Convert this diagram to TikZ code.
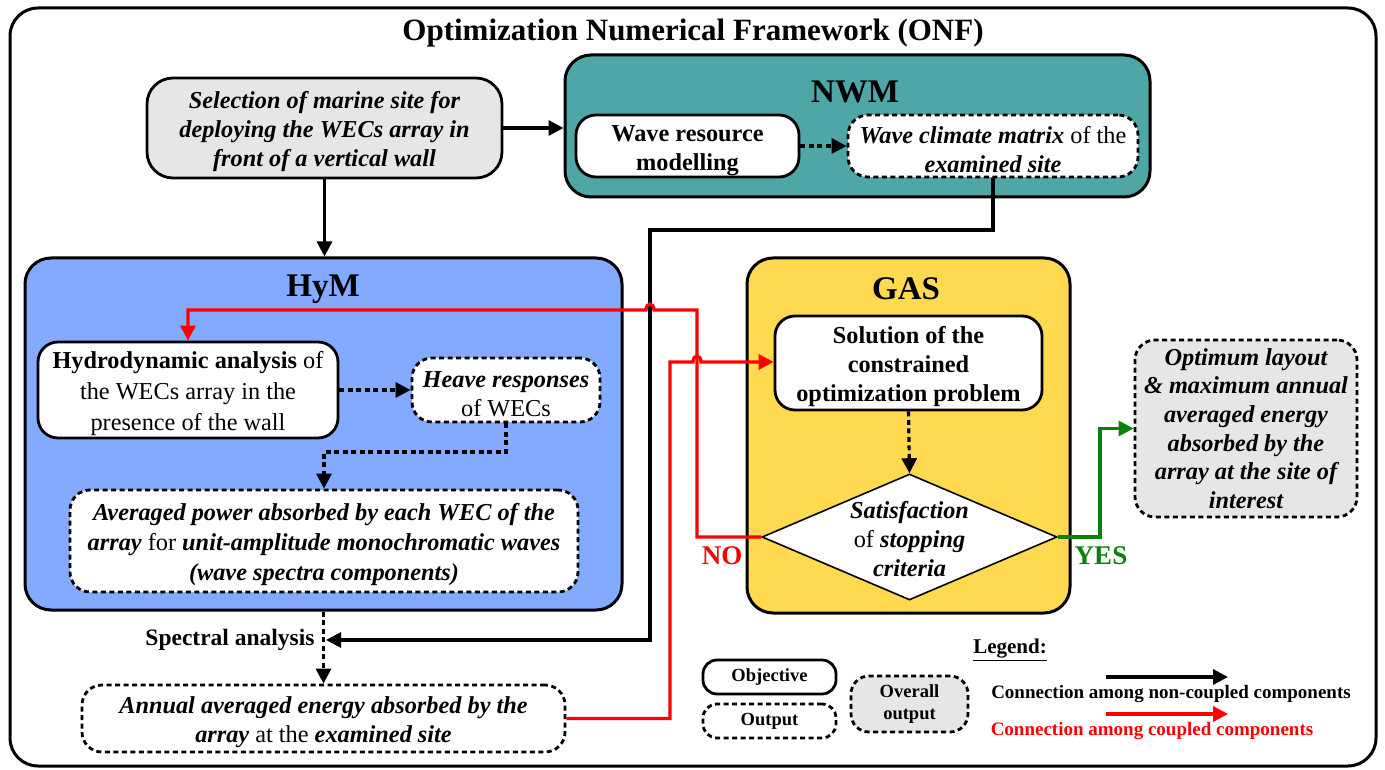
\documentclass[tikz,border=0pt]{standalone}
\usepackage{fontspec}
\setmainfont{Liberation Serif}
\usetikzlibrary{arrows.meta,shapes.geometric,calc}
\definecolor{teal1}{HTML}{4FA6A6}
\definecolor{blue1}{HTML}{84AAFF}
\definecolor{yel1}{HTML}{FFD94F}
\definecolor{gray1}{HTML}{E6E6E6}
\definecolor{grn1}{HTML}{0A820A}
\newcommand{\bix}[1]{{\bfseries\itshape #1}}
\newcommand{\tup}{\rule{0pt}{25pt}}
\begin{document}
\begin{tikzpicture}[x=1pt,y=-1pt,
  boxfont/.style={font=\fontsize{24.3}{29}\selectfont},
  objbox/.style={draw,line width=2.8pt,rounded corners=20pt,fill=white,align=center,inner sep=1pt,boxfont},
  outbox/.style={objbox,dash pattern=on 5pt off 3.5pt},
  contbox/.style={draw,line width=3pt,rounded corners=26pt,inner sep=0pt},
  conttitle/.style={font=\fontsize{33}{36}\selectfont\bfseries},
  legfont/.style={font=\fontsize{18.5}{21}\selectfont\bfseries},
  arr/.style={line width=3.2pt,-{Triangle[length=15pt,width=15pt]}},
  darr/.style={arr,dash pattern=on 5pt off 3.5pt},
  rarr/.style={arr,red},
  garr/.style={arr,grn1},
]
\useasboundingbox (0,0) rectangle (1385,770);
\node[contbox,minimum width=1366,minimum height=758,rounded corners=28pt] (frame) at (693,387) {};
\node[font=\fontsize{31}{34}\selectfont\bfseries] (title) at (693,33) {Optimization Numerical Framework (ONF)};

% containers
\node[contbox,fill=teal1,minimum width=585,minimum height=142] (nwm) at (857.5,126) {};
\node[conttitle] (nwmt) at (855,92) {NWM};
\node[contbox,fill=blue1,minimum width=597,minimum height=352] (hym) at (323.5,434) {};
\node[conttitle] (hymt) at (323,289) {HyM};
\node[contbox,fill=yel1,minimum width=323,minimum height=355] (gas) at (908.5,435.5) {};
\node[conttitle] (gast) at (906,289) {GAS};

% boxes
\node[objbox,fill=gray1,minimum width=355,minimum height=100,rounded corners=26pt] (sel) at (324.5,128)
  {\tup\bix{Selection of marine site for}\\ \bix{deploying the WECs array in}\\ \bix{front of a vertical wall}};
\node[objbox,minimum width=223,minimum height=62] (wrm) at (687.5,146)
  {\tup\bfseries Wave resource\\ \bfseries modelling};
\node[outbox,minimum width=290,minimum height=62] (wcm) at (993,146)
  {\tup\bix{Wave climate matrix} of the\\ \bix{examined site}};
\node[objbox,minimum width=300,minimum height=96,font=\fontsize{24.3}{31}\selectfont] (hyd) at (188,390)
  {\tup\textbf{Hydrodynamic analysis} of\\ the WECs array in the\\ presence of the wall};
\node[outbox,minimum width=188,minimum height=64] (heave) at (506,390)
  {\tup\bix{Heave responses}\\ of WECs};
\node[outbox,minimum width=508,minimum height=102,font=\fontsize{24.3}{30}\selectfont] (avg) at (324,541)
  {\tup\bix{Averaged power absorbed by each WEC of the}\\ \bix{array} for \bix{unit-amplitude monochromatic waves}\\ \bix{(wave spectra components)}};
\node[outbox,minimum width=483,minimum height=67] (ann) at (323.5,718.5)
  {\tup\bix{Annual averaged energy absorbed by the}\\ \bix{array} at the \bix{examined site}};
\node[objbox,minimum width=267,minimum height=94] (sol) at (908.5,363)
  {\tup\bfseries Solution of the\\ \bfseries constrained\\ \bfseries optimization problem};
\node[diamond,draw,line width=1.6pt,fill=white,minimum width=295,minimum height=126,inner sep=0pt] (dia) at (909.5,537) {};
\node[align=center,boxfont] (diat) at (909.5,539) {\bix{Satisfaction}\\ of \bix{stopping}\\ \bix{criteria}};
\node[outbox,fill=gray1,minimum width=222,minimum height=177,font=\fontsize{24.3}{28.7}\selectfont] (opt) at (1246,428.5)
  {\bix{Optimum layout}\\ \bix{\& maximum annual}\\ \bix{averaged energy}\\ \bix{absorbed by the}\\ \bix{array at the site of}\\ \bix{interest}};

% labels
\node[font=\fontsize{23.5}{26}\selectfont\bfseries] (spec) at (230,640) {Spectral analysis};
\node[font=\fontsize{27}{30}\selectfont\bfseries,text=red] (no) at (722,556) {NO};
\node[font=\fontsize{27}{30}\selectfont\bfseries,text=grn1] (yes) at (1101,556) {YES};

% connectors
\draw[arr] (sel.east) -- (sel.east -| nwm.west);
\draw[arr] (sel.south) -- (sel.south |- hym.north);
\draw[darr] (wrm.east) -- (wcm.west);
\draw[darr] (hyd.east) -- (heave.west);
\coordinate (hv1) at (506,452);
\draw[darr] (heave.south) -- (hv1) -| (avg.north);
\draw[darr] (hym.south) -- (ann.north);
\coordinate (b1) at (650,230);
\coordinate (b2) at (650,640);
\coordinate (b3) at (326,640);
\draw[arr] (wcm.south) |- (b1) -- (b2) -- (b3);

\coordinate (r1) at (670,362);
\coordinate (r2) at (693,362);
\coordinate (r3) at (701,362);
\draw[rarr] (ann.east) -| (r1) -- (r2) .. controls (693,354) and (701,354) .. (r3) -- (r3 -| sol.west);
\coordinate (q1) at (697,537);
\coordinate (q2) at (697,310);
\coordinate (q3) at (654,310);
\coordinate (q4) at (646,310);
\draw[rarr] (dia.west) -- (q1) -- (q2) -- (q3) .. controls (654,302) and (646,302) .. (q4) -| (hyd.north);
\coordinate (g1) at (1100,537);
\draw[garr] (dia.east) -- (g1) |- (opt.west);
\draw[darr] (sol.south) -- (dia.north);

% legend
\node[font=\fontsize{21}{24}\selectfont\bfseries] (leg) at (1010,650) {\underline{Legend:}};
\node[objbox,minimum width=133,minimum height=34,rounded corners=14pt,legfont] (objl) at (769.5,677) {Objective};
\node[outbox,minimum width=133,minimum height=34,rounded corners=14pt,legfont] (outl) at (769.5,721) {Output};
\node[outbox,fill=gray1,minimum width=117,minimum height=56,rounded corners=18pt,font=\fontsize{18.5}{22}\selectfont\bfseries] (ovl) at (909.5,704) {Overall\\ output};
\coordinate (la1) at (1106,677);
\coordinate (la2) at (1228,677);
\coordinate (lr1) at (1106,714);
\coordinate (lr2) at (1228,714);
\draw[arr] (la1) -- (la2);
\draw[rarr] (lr1) -- (lr2);
\node[font=\fontsize{19}{22}\selectfont\bfseries] (lt1) at (1171,694) {Connection among non-coupled components};
\node[font=\fontsize{19}{22}\selectfont\bfseries,text=red] (lt2) at (1152,731) {Connection among coupled components};
\end{tikzpicture}
\end{document}
